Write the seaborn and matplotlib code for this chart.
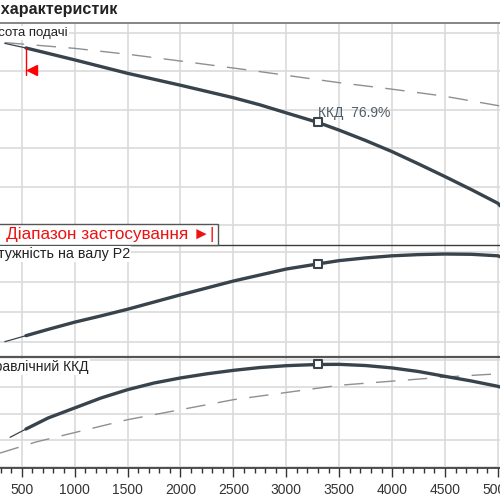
import matplotlib
matplotlib.use("Agg")
import matplotlib.pyplot as plt
import seaborn as sns
import numpy as np
from matplotlib.ticker import MultipleLocator
from matplotlib.patches import Rectangle

# flow values (x axis)
q_head = [340, 540, 1000, 1500, 2000, 2500, 2750, 3000, 3300, 3500, 3750, 4000, 4250, 4500, 4750, 5000, 5020]
head = [57.3, 56.1, 53.0, 49.5, 46.4, 43.15, 41.3, 39.2, 36.7, 34.7, 32.0, 29.1, 25.9, 22.6, 19.2, 15.65, 15.0]

q_head_ref = [340, 1000, 1550, 2000, 2630, 3490, 3990, 4480, 5020]
head_ref = [57.5, 56.0, 54.3, 52.7, 50.4, 47.1, 45.4, 43.6, 41.0]

q_pow = [340, 540, 750, 1000, 1250, 1500, 1750, 2000, 2250, 2500, 2750, 3000, 3300, 3500, 3750, 4000, 4250, 4500, 4750, 5000, 5020]
power = [10.0, 12.0, 14.1, 16.5, 18.6, 20.8, 23.2, 25.6, 27.9, 30.2, 32.2, 34.2, 35.9, 37.0, 37.9, 38.6, 39.0, 39.2, 39.1, 38.6, 38.3]

q_eff = [390, 540, 750, 1000, 1250, 1500, 1750, 2000, 2250, 2500, 2750, 3000, 3300, 3500, 3750, 4000, 4250, 4500, 4750, 5000, 5020]
eff = [22.3, 28.5, 36.8, 44.3, 51.8, 58.0, 63.0, 66.8, 69.9, 72.5, 74.6, 76.0, 76.9, 77.0, 76.1, 74.3, 71.6, 68.0, 64.5, 60.5, 60.0]

q_eff_ref = [295, 635, 1500, 2500, 3500, 4500, 5020]
eff_ref = [10.5, 18.8, 35.5, 50.5, 61.3, 67.5, 70.0]

q_min = 540
q_opt = 3300
eff_opt = 76.9

title = "Графік характеристик"
lbl_head = "Висота подачі"
lbl_pow = "Потужність на валу P2"
lbl_eff = "Гідравлічний ККД"
lbl_range = "|◄ Діапазон застосування ►|"

sns.set_style("white")
plt.rcParams['font.family'] = ['Liberation Sans', 'DejaVu Sans']

dark = '#38434c'
grid_c = '#dadada'
dash_c = '#8f8f8f'

fig = plt.figure(figsize=(5, 5), dpi=100)
ax1 = fig.add_axes([0, 0.51, 1, 0.444])
ax2 = fig.add_axes([0, 0.286, 1, 0.224])
ax3 = fig.add_axes([0, 0.064, 1, 0.222])

panels = [(ax1, (4.8, 62.6), np.arange(10, 61, 10)),
          (ax2, (4.9, 42.2), np.arange(10, 41, 10)),
          (ax3, (-0.7, 82.5), np.arange(0, 81, 20))]
for ax, ylim, yt in panels:
    ax.set_xlim(295, 5019)
    ax.set_ylim(*ylim)
    ax.set_yticks(yt)
    ax.xaxis.set_major_locator(MultipleLocator(500))
    ax.xaxis.set_minor_locator(MultipleLocator(100))
    ax.grid(True, which='major', color=grid_c, lw=1.2)
    ax.set_axisbelow(True)
    ax.tick_params(axis='y', left=False, labelleft=False)
    ax.spines['left'].set_visible(False)
    ax.spines['right'].set_visible(False)
    ax.set_facecolor('white')

for ax in (ax1, ax2):
    ax.tick_params(axis='x', which='both', bottom=False, labelbottom=False)
    ax.spines['bottom'].set_visible(False)

ax1.spines['top'].set_color('#858585')
ax1.spines['top'].set_linewidth(1.4)
ax2.spines['top'].set_color('#3c3c3c')
ax2.spines['top'].set_linewidth(1.0)
ax3.spines['top'].set_color('#555555')
ax3.spines['top'].set_linewidth(1.6)
ax3.spines['bottom'].set_color('#333333')
ax3.spines['bottom'].set_linewidth(1.2)
ax3.tick_params(axis='x', which='major', direction='out', length=6.5, width=1,
                color='#333333', labelsize=10, labelcolor='#333333', pad=4, bottom=True)
ax3.tick_params(axis='x', which='minor', direction='out', length=3.6, width=1,
                color='#333333', bottom=True)
ax3.set_xticks(np.arange(500, 5001, 500))
ax3.set_xticklabels([str(v) for v in range(500, 5001, 500)])


def curve(ax, q, v):
    q = np.asarray(q)
    v = np.asarray(v)
    sns.lineplot(x=q, y=v, ax=ax, color=dark, lw=0.9, sort=False)
    m = q >= q_min
    sns.lineplot(x=q[m], y=v[m], ax=ax, color=dark, lw=2.4, sort=False,
                 solid_capstyle='round', solid_joinstyle='round')


# head
sns.lineplot(x=q_head_ref, y=head_ref, ax=ax1, color=dash_c, lw=1.0,
             linestyle=(0, (14, 9)), sort=False)
curve(ax1, q_head, head)
h_opt = head[q_head.index(q_opt)]
h_min = head[q_head.index(q_min)]
ax1.plot([q_min, q_min], [h_min, 49.1], color='red', lw=1.0)
ax1.plot([597], [50.4], marker='<', color='red', ms=7.5, ls='none')
sns.scatterplot(x=[q_opt], y=[h_opt], ax=ax1, marker='s', s=30, color='white',
                edgecolor=dark, linewidth=1.5, zorder=5)
ax1.annotate(f"ККД  {eff_opt}%", xy=(q_opt, h_opt), xytext=(0, 4.0),
             textcoords='offset points', ha='left', va='baseline',
             fontsize=10, color='#4f5d68')

# power
curve(ax2, q_pow, power)
sns.scatterplot(x=[q_opt], y=[power[q_pow.index(q_opt)]], ax=ax2, marker='s', s=30,
                color='white', edgecolor=dark, linewidth=1.5, zorder=5)

# efficiency
sns.lineplot(x=q_eff_ref, y=eff_ref, ax=ax3, color=dash_c, lw=1.0,
             linestyle=(0, (14, 9)), sort=False)
curve(ax3, q_eff, eff)
sns.scatterplot(x=[q_opt], y=[eff_opt], ax=ax3, marker='s', s=30, color='white',
                edgecolor=dark, linewidth=1.5, zorder=5)

for ax in (ax1, ax2, ax3):
    if ax.get_legend():
        ax.get_legend().remove()

# texts
fig.text(117 / 500, 1 - 14 / 500, title, ha='right', va='baseline',
         fontsize=11.6, fontweight='bold', color='#222222')
box = dict(facecolor='white', edgecolor='none', pad=1.0)
fig.text(68 / 500, 1 - 36 / 500, lbl_head, ha='right', va='baseline',
         fontsize=9.5, color='#222222', bbox=box, zorder=6)
fig.text(130 / 500, 1 - 258 / 500, lbl_pow, ha='right', va='baseline',
         fontsize=10.3, color='#222222', bbox=box, zorder=6)
fig.text(89 / 500, 1 - 371 / 500, lbl_eff, ha='right', va='baseline',
         fontsize=10, color='#222222', bbox=box, zorder=6)

fig.patches.append(Rectangle((-0.05, 0.51), 0.486, 0.042, transform=fig.transFigure,
                             facecolor='white', edgecolor='#555555', lw=1.0, zorder=5))
fig.text(214 / 500, 1 - 239 / 500, lbl_range, ha='right', va='baseline',
         fontsize=12.3, color='#ee1111', zorder=6)

fig.savefig("out.png", dpi=100)
